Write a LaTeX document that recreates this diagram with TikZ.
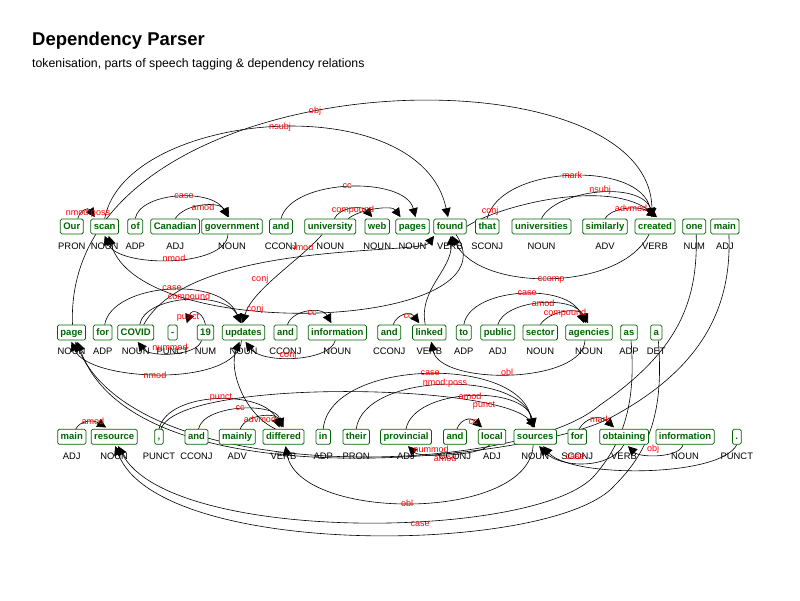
\documentclass[tikz,border=0pt]{standalone}
\usepackage{fontspec}
\setmainfont{Liberation Sans}
\usetikzlibrary{arrows.meta,backgrounds}
\definecolor{wgreen}{RGB}{0,100,0}
\begin{document}
\begin{tikzpicture}[x=1pt,y=-1pt,
  wbox/.style={draw=wgreen, fill=white, rounded corners=1.5pt, line width=0.75pt, text=wgreen,
    font=\fontsize{9.5}{11}\selectfont\bfseries, inner xsep=3pt, inner ysep=0pt,
    minimum height=15pt, text height=7pt, text depth=2pt},
  postag/.style={font=\fontsize{9.4}{11}\selectfont, text=black, anchor=base, inner sep=0pt},
  lab/.style={font=\fontsize{9}{10}\selectfont, text=red, inner sep=0pt},
  edge/.style={draw=black, line width=0.6pt, -{Triangle[length=9pt,width=9pt]}}]
\useasboundingbox (0,0) rectangle (800,600);
\begin{scope}[on background layer]
\fill[white] (0,0) rectangle (800,600);
\end{scope}

\node[anchor=base west, font=\fontsize{18.5}{20}\selectfont\bfseries, inner sep=0pt] (title) at (32,45) {Dependency Parser};
\node[anchor=base west, font=\fontsize{12.3}{14}\selectfont, inner sep=0pt] (subtitle) at (32,67) {tokenisation, parts of speech tagging \& dependency relations};

% row 1
\foreach \n/\x/\w/\p in {our/71.8/Our/PRON, scan/104.7/scan/NOUN, of/135.2/of/ADP, canadian/175.2/Canadian/ADJ,
  government/232/government/NOUN, andA/281/and/CCONJ, university/330.3/university/NOUN, web/377.2/web/NOUN,
  pages/412.5/pages/NOUN, found/450/found/VERB, that/487.2/that/SCONJ, universities/541.5/universities/NOUN,
  similarly/605/similarly/ADV, created/655/created/VERB, one/694.2/one/NUM, mainA/724.9/main/ADJ}
{\node[wbox] (\n) at (\x,226.5) {\w}; \node[postag] (p-\n) at (\x,249.5) {\p};}
% row 2
\foreach \n/\x/\w/\p in {page/71.5/page/NOUN, forA/102.7/for/ADP, covid/135.7/COVID/NOUN, dash/172.7/-/PUNCT,
  nineteen/205.5/19/NUM, updates/243.5/updates/NOUN, andB/285.5/and/CCONJ, infoA/337.3/information/NOUN,
  andC/389.2/and/CCONJ, linked/429.3/linked/VERB, nto/463.8/to/ADP, public/497.8/public/ADJ,
  sector/540.2/sector/NOUN, agencies/589/agencies/NOUN, nas/629/as/ADP, na/656.3/a/DET}
{\node[wbox] (\n) at (\x,332.5) {\w}; \node[postag] (p-\n) at (\x,354.5) {\p};}
% row 3
\foreach \n/\x/\w/\p in {mainB/71.8/main/ADJ, resource/114.2/resource/NOUN, comma/159/{,}/PUNCT, andD/196.5/and/CCONJ,
  mainly/237.2/mainly/ADV, differed/283.5/differed/VERB, nin/323.2/in/ADP, their/356.2/their/PRON,
  provincial/406/provincial/ADJ, andE/455/and/CCONJ, local/492/local/ADJ, sources/535.2/sources/NOUN,
  forB/577.2/for/SCONJ, obtaining/624/obtaining/VERB, infoB/685/information/NOUN, period/736.8/./PUNCT}
{\node[wbox] (\n) at (\x,436.8) {\w}; \node[postag] (p-\n) at (\x,459.5) {\p};}

\begin{scope}[on background layer]
% row 1, above
\draw[edge] ([xshift=6pt]our.north) .. controls (80,210) and (88,207) .. ([xshift=-10pt,yshift=1.5pt]scan.north);
\draw[edge] (of.north) .. controls (140,192) and (212,188) .. ([xshift=-4pt,yshift=1.5pt]government.north);
\draw[edge] (canadian.north) .. controls (185,203) and (220,201) .. ([xshift=-3pt,yshift=1.5pt]government.north);
\draw[edge] (andA.north) .. controls (292,178) and (405,176) .. ([xshift=3pt,yshift=1.5pt]pages.north);
\draw[edge] ([xshift=4pt]university.north) .. controls (340,207) and (362,205) .. ([xshift=-5pt,yshift=1.5pt]web.north);
\draw[edge] ([xshift=18pt]university.north) .. controls (360,209) and (392,205) .. ([xshift=-12pt,yshift=1.5pt]pages.north);
\draw[edge] (scan.north) .. controls (125,110) and (420,85) .. ([xshift=-2pt,yshift=1.5pt]found.north);
\draw[edge] ([xshift=1pt]page.north) .. controls (62,60) and (650,40) .. ([xshift=-3pt,yshift=1.5pt]created.north);
\draw[edge] (that.north) .. controls (500,165) and (640,160) .. ([xshift=-3pt,yshift=1.5pt]created.north);
\draw[edge] (universities.north) .. controls (555,190) and (640,180) .. ([xshift=-1pt,yshift=1.5pt]created.north);
\draw[edge] (similarly.north) .. controls (612,207) and (640,205) .. ([xshift=1pt,yshift=1.5pt]created.north);
\draw[edge] (found.east) .. controls (500,205) and (610,178) .. ([xshift=2pt,yshift=1.5pt]created.north);
% row 1, below
\draw[edge] ([xshift=-4pt]government.south) .. controls (226,268) and (118,268) .. ([yshift=-1.5pt]scan.south);
\draw[edge] ([xshift=-6pt]created.south) .. controls (620,292) and (480,292) .. ([xshift=2pt,yshift=-1.5pt]found.south);
\draw[edge] ([xshift=6pt]found.south) .. controls (520,330) and (140,345) .. ([xshift=4pt,yshift=-1.5pt]scan.south);
\draw[edge] ([xshift=8pt]covid.north) .. controls (190,240) and (420,255) .. ([xshift=-16pt,yshift=-1.5pt]found.south);
\draw[edge] ([xshift=-4pt]linked.north) .. controls (418,290) and (452,270) .. ([xshift=1pt,yshift=-1.5pt]found.south);
\draw[edge] ([xshift=-8pt]university.south) .. controls (300,260) and (252,290) .. ([xshift=-1pt,yshift=1.5pt]updates.north);
% row 2
\draw[edge] ([xshift=2pt]forA.north) .. controls (112,283) and (222,275) .. ([xshift=-3pt,yshift=1.5pt]updates.north);
\draw[edge] ([xshift=4pt]covid.north) .. controls (145,295) and (225,290) .. ([xshift=-2pt,yshift=1.5pt]updates.north);
\draw[edge] (nineteen.north) .. controls (203,312) and (192,308) .. ([xshift=14pt,yshift=1.5pt]dash.north);
\draw[edge] ([xshift=-4pt]nineteen.south) .. controls (198,356) and (150,358) .. ([xshift=2pt,yshift=-1.5pt]covid.south);
\draw[edge] ([xshift=-2pt]updates.south) .. controls (238,388) and (88,382) .. ([yshift=-1.5pt]page.south);
\draw[edge] ([xshift=2pt]andB.north) .. controls (292,310) and (322,306) .. ([xshift=-6pt,yshift=1.5pt]infoA.north);
\draw[edge] ([xshift=-2pt]infoA.south) .. controls (330,362) and (262,364) .. ([xshift=2pt,yshift=-1.5pt]updates.south);
\draw[edge] ([xshift=4pt]andC.north) .. controls (397,314) and (410,311) .. ([xshift=-10pt,yshift=1.5pt]linked.north);
\draw[edge] (nto.north) .. controls (470,287) and (570,282) .. ([xshift=-5pt,yshift=1.5pt]agencies.north);
\draw[edge] (public.north) .. controls (505,299) and (575,295) .. ([xshift=-3pt,yshift=1.5pt]agencies.north);
\draw[edge] (sector.north) .. controls (550,310) and (580,307) .. ([xshift=-1pt,yshift=1.5pt]agencies.north);
\draw[edge] ([xshift=-4pt]agencies.south) .. controls (583,384) and (440,386) .. ([xshift=2pt,yshift=-1.5pt]linked.south);
\draw[edge] ([xshift=-8pt]differed.north) .. controls (245,415) and (228,370) .. ([xshift=-4pt,yshift=-1.5pt]updates.south);
% long arcs
\draw[edge] ([xshift=2pt]one.south) .. controls (698,300) and (680,350) .. (600,405) .. controls (520,475) and (140,490) .. ([xshift=4pt,yshift=-1.5pt]page.south);
\draw[edge] ([xshift=4pt]mainA.south) .. controls (732,310) and (700,370) .. (610,418) .. controls (530,460) and (135,505) .. ([xshift=6pt,yshift=-1.5pt]page.south);
\draw[edge] ([xshift=2pt]nas.south) .. controls (636,400) and (625,440) .. (595,475) .. controls (540,540) and (170,545) .. ([xshift=4pt,yshift=-1.5pt]resource.south);
\draw[edge] ([xshift=2pt]na.south) .. controls (664,410) and (650,450) .. (615,485) .. controls (555,555) and (160,560) .. ([xshift=1pt,yshift=-1.5pt]resource.south);
% row 3
\draw[edge] ([xshift=4pt]mainB.north) .. controls (80,421) and (92,419) .. ([xshift=-8pt,yshift=1.5pt]resource.north);
\draw[edge] (comma.north) .. controls (168,390) and (266,390) .. ([xshift=-4pt,yshift=1.5pt]differed.north);
\draw[edge] ([xshift=2pt]andD.north) .. controls (204,404) and (276,402) .. ([xshift=-2pt,yshift=1.5pt]differed.north);
\draw[edge] ([xshift=3pt]mainly.north) .. controls (246,414) and (276,412) .. ([yshift=1.5pt]differed.north);
\draw[edge] (nin.north) .. controls (330,358) and (522,355) .. ([xshift=-3pt,yshift=1.5pt]sources.north);
\draw[edge] (their.north) .. controls (364,372) and (522,370) .. ([xshift=-2pt,yshift=1.5pt]sources.north);
\draw[edge] (provincial.north) .. controls (414,388) and (524,384) .. ([xshift=-1pt,yshift=1.5pt]sources.north);
\draw[edge] ([xshift=2pt]comma.north) .. controls (178,378) and (500,383) .. ([yshift=1.5pt]sources.north);
\draw[edge] ([xshift=2pt]andE.north) .. controls (460,420) and (470,416) .. ([xshift=-10pt,yshift=1.5pt]local.north);
\draw[edge] ([xshift=-2pt]local.south) .. controls (480,456) and (420,458) .. ([xshift=2pt,yshift=-1.5pt]provincial.south);
\draw[edge] ([xshift=-2pt]sources.south) .. controls (530,522) and (300,522) .. ([xshift=2pt,yshift=-1.5pt]differed.south);
\draw[edge] ([xshift=2pt]forB.north) .. controls (585,418) and (600,414) .. ([xshift=-10pt,yshift=1.5pt]obtaining.north);
\draw[edge] ([xshift=-2pt]infoB.south) .. controls (680,458) and (640,458) .. ([xshift=4pt,yshift=-1.5pt]obtaining.south);
\draw[edge] (obtaining.south) .. controls (610,470) and (560,468) .. ([xshift=4pt,yshift=-1.5pt]sources.south);
\draw[edge] (period.south) .. controls (720,478) and (570,478) .. ([xshift=8pt,yshift=-1.5pt]sources.south);
\end{scope}

% labels
\node[lab] (l1) at (88,213) {nmod:poss};
\node[lab] (l2) at (184,196) {case};
\node[lab] (l3) at (203,207) {amod};
\node[lab] (l4) at (174,258) {nmod};
\node[lab] (l5) at (347,186) {cc};
\node[lab] (l6) at (353,210) {compound};
\node[lab] (l7) at (280,127) {nsubj};
\node[lab] (l8) at (315,111) {obj};
\node[lab] (l9) at (572,175) {mark};
\node[lab] (l10) at (600,190) {nsubj};
\node[lab] (l11) at (631,208) {advmod};
\node[lab] (l12) at (490,211) {conj};
\node[lab] (l13) at (302,247) {nmod};
\node[lab] (l14) at (551,280) {ccomp};
\node[lab] (l15) at (260,279) {conj};
\node[lab] (l16) at (255,309) {conj};
\node[lab] (l17) at (172,288) {case};
\node[lab] (l18) at (189,297) {compound};
\node[lab] (l19) at (188,318) {punct};
\node[lab] (l20) at (170,347) {nummod};
\node[lab] (l21) at (155,375) {nmod};
\node[lab] (l22) at (312,313) {cc};
\node[lab] (l23) at (288,355) {conj};
\node[lab] (l24) at (408,316) {cc};
\node[lab] (l25) at (527,293) {case};
\node[lab] (l26) at (543,303) {amod};
\node[lab] (l27) at (565,313) {compound};
\node[lab] (l28) at (507,372) {obl};
\node[lab] (l29) at (93,421) {amod};
\node[lab] (l30) at (221,398) {punct};
\node[lab] (l31) at (240,408) {cc};
\node[lab] (l32) at (260,419) {advmod};
\node[lab] (l33) at (430,373) {case};
\node[lab] (l34) at (445,383) {nmod:poss};
\node[lab] (l35) at (470,396) {amod};
\node[lab] (l36) at (484,406) {punct};
\node[lab] (l37) at (473,422) {cc};
\node[lab] (l38) at (600,419) {mark};
\node[lab] (l39) at (431,449) {nummod};
\node[lab] (l40) at (445,458) {amod};
\node[lab] (l41) at (653,449) {obj};
\node[lab] (l42) at (575,457) {case};
\node[lab] (l43) at (407,503) {obl};
\node[lab] (l44) at (420,524) {case};
\end{tikzpicture}
\end{document}
